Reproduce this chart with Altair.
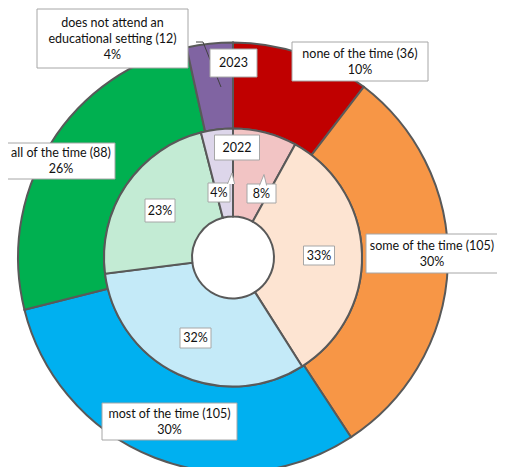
import altair as alt
import pandas as pd

# ---- data ----
categories = ["none of the time", "some of the time", "most of the time",
              "all of the time", "does not attend an educational setting"]
counts_2023 = [36, 105, 105, 88, 12]
pct_2023 = [10, 30, 30, 26, 4]
pct_2022 = [8, 33, 32, 23, 4]
outer_labels = ["none of the time (36)\n10%", "some of the time (105)\n30%",
                "most of the time (105)\n30%", "all of the time (88)\n26%",
                "does not attend an\neducational setting (12)\n4%"]
inner_labels = ["8%", "33%", "32%", "23%", "4%"]
ring_titles = ["2023", "2022"]

# ---- styles / layout ----
colors_2023 = ["#C00000", "#F79646", "#00B0F0", "#00B050", "#8064A2"]
colors_2022 = ["#F2C4C4", "#FDE4D2", "#C4EAF8", "#C3EBD4", "#DDD6EA"]
W, H = 489, 459
CX, CY = 225, 249.5
R_OUT, R_MID, R_IN = 215, 129, 41
FONT = "Lato"
FS = 12.5
LH = 16

# label boxes: centre offset from pie centre (dx, dy), width, height, text x-shift
outer_box = [(127, -196, 136, 39, 0), (203, -4, 140, 39, -4), (-63.5, 164, 135, 37, 0),
             (-172, -96.5, 108, 36, 0), (-120.5, -219, 151, 59, 0)]
inner_box = [(28.5, -64, 29, 19, 0), (86, -2, 31, 19, 0), (-37.5, 80.5, 31, 20, 0),
             (-73, -47, 30, 23, 0), (-14, -65, 22, 19, 0)]
title_box = [(0.5, -194.5, 47, 28, 0), (4, -110, 45, 25, 0)]

def ring(values, colors, r0, r1):
    df = pd.DataFrame({"cat": categories, "value": values,
                       "order": list(range(len(values))), "color": colors})
    return alt.Chart(df).mark_arc(outerRadius=r1, innerRadius=r0,
                                  stroke="#595959", strokeWidth=2).encode(
        theta=alt.Theta("value:Q", stack="normalize"),
        order=alt.Order("order:Q"),
        color=alt.Color("color:N", scale=None),
        x=alt.value(CX), y=alt.value(CY),
    )

rows = []
for lab, (dx, dy, w, h, tdx) in zip(outer_labels + inner_labels + ring_titles,
                                    outer_box + inner_box + title_box):
    n = lab.count("\n")
    rows.append(dict(text=lab, cx=CX + dx, cy=CY + dy, tx=CX + dx + tdx,
                     ty=CY + dy - n * LH / 2, w=w, h=h))
labels = pd.DataFrame(rows)
labels["x0"] = labels.cx - labels.w / 2
labels["x1"] = labels.cx + labels.w / 2
labels["y0"] = labels.cy - labels.h / 2
labels["y1"] = labels.cy + labels.h / 2

xs = alt.Scale(domain=[0, W], range=[0, W])
ys = alt.Scale(domain=[0, H], range=[0, H])

boxes = alt.Chart(labels).mark_rect(fill="white", stroke="#A6A6A6", strokeWidth=1).encode(
    x=alt.X("x0:Q", scale=xs, axis=None), x2="x1:Q",
    y=alt.Y("y0:Q", scale=ys, axis=None), y2="y1:Q",
)
texts = alt.Chart(labels).mark_text(font=FONT, fontSize=FS, color="#111111",
                                    lineBreak="\n", lineHeight=LH,
                                    align="center", baseline="middle").encode(
    x=alt.X("tx:Q", scale=xs, axis=None),
    y=alt.Y("ty:Q", scale=ys, axis=None),
    text="text:N",
)

# callout pointers of the small 2022 labels (offsets from pie centre)
ptr = pd.DataFrame({"px": [CX - 2.5, CX + 29.5], "py": [CY - 79, CY - 77.5]})
pointers = alt.Chart(ptr).mark_point(
    shape="M-0.55,1 L0.27,-1 L0.75,1", size=121, filled=True,
    fill="white", stroke="#A6A6A6", strokeWidth=1, opacity=1).encode(
    x=alt.X("px:Q", scale=xs, axis=None), y=alt.Y("py:Q", scale=ys, axis=None))

# leader line of the purple slice
lead = pd.DataFrame({"lx": [CX - 12, CX - 30, CX - 37],
                     "ly": [CY - 170.5, CY - 215.5, CY - 215.5], "o": [0, 1, 2]})
leader = alt.Chart(lead).mark_line(color="#404040", strokeWidth=1).encode(
    x=alt.X("lx:Q", scale=xs, axis=None), y=alt.Y("ly:Q", scale=ys, axis=None),
    order="o:Q")

chart = alt.layer(
    ring(counts_2023, colors_2023, R_MID, R_OUT),
    ring(pct_2022, colors_2022, R_IN, R_MID),
    leader, boxes, pointers, texts,
).properties(width=W, height=H, padding=0,
             autosize=alt.AutoSizeParams(type="none")
).configure_view(stroke=None)

chart.save("out.html", embed_options={"renderer": "svg", "actions": False})
